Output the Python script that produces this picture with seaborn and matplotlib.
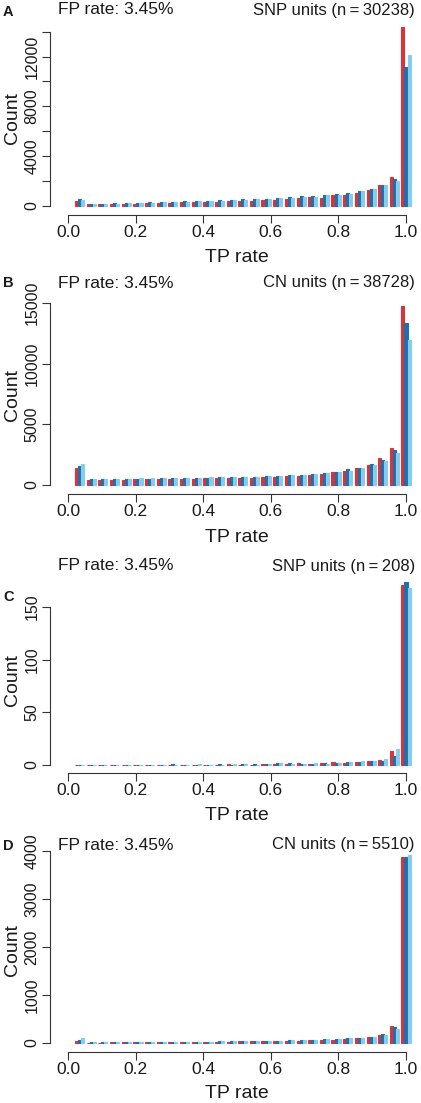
import numpy as np
import pandas as pd
import matplotlib
matplotlib.use("Agg")
import matplotlib.pyplot as plt
import seaborn as sns

# ---------------- data ----------------
tp_bins = [0.034, 0.069, 0.103, 0.138, 0.172, 0.207, 0.241, 0.276, 0.310, 0.345,
           0.379, 0.414, 0.448, 0.483, 0.517, 0.552, 0.586, 0.621, 0.655, 0.690,
           0.724, 0.759, 0.793, 0.828, 0.862, 0.897, 0.931, 0.966, 1.000]
series_names = ["s1", "s2", "s3"]
series_colors = ["#D8353A", "#1E6FAE", "#86CDEB"]

red_A = [420, 130, 140, 160, 170, 190, 220, 240, 270, 290, 310, 330, 350, 380, 410,
         440, 480, 520, 580, 620, 700, 680, 880, 900, 1070, 1280, 1680, 2350, 14350]
dk_A = [560, 170, 190, 210, 230, 260, 290, 310, 350, 380, 400, 430, 460, 490, 530,
        560, 600, 650, 700, 770, 800, 900, 1000, 1020, 1230, 1330, 1700, 2160, 11150]
lt_A = [500, 160, 180, 200, 220, 240, 270, 300, 330, 360, 380, 410, 440, 470, 500,
        540, 580, 620, 680, 740, 760, 860, 880, 940, 1180, 1350, 1650, 2000, 12150]

red_B = [1370, 420, 430, 440, 450, 460, 470, 480, 490, 500, 520, 540, 550, 570, 590,
         610, 640, 680, 720, 780, 850, 920, 1040, 1150, 1370, 1650, 2200, 3020, 14750]
dk_B = [1570, 480, 490, 500, 510, 520, 530, 540, 550, 570, 580, 600, 620, 640, 660,
        690, 720, 760, 800, 860, 930, 1000, 1100, 1290, 1430, 1700, 2060, 2880, 13350]
lt_B = [1700, 500, 510, 520, 530, 540, 550, 560, 570, 590, 600, 620, 640, 660, 680,
        700, 730, 770, 810, 860, 920, 980, 1080, 1180, 1370, 1650, 1980, 2660, 11950]

red_C = [0, 0, 0, 0, 0, 0, 0, 0, 0, 0, 0, 0, 0, 1, 0, 0, 1, 1, 1, 2, 1, 2, 3, 2, 3,
         4, 5, 13, 171]
dk_C = [0, 0, 0, 0, 0, 0, 0, 0, 1, 0, 0, 0, 1, 0, 1, 1, 1, 2, 2, 1, 1, 2, 2, 3, 3,
        4, 4, 9, 174]
lt_C = [0, 0, 0, 0, 0, 0, 0, 0, 0, 0, 1, 0, 0, 1, 1, 0, 1, 2, 1, 1, 2, 1, 2, 3, 4,
        4, 6, 15, 168]

red_D = [40, 10, 10, 12, 14, 15, 17, 18, 20, 22, 24, 26, 28, 30, 33, 36, 40, 44, 48,
         52, 58, 64, 72, 85, 100, 120, 170, 350, 3870]
dk_D = [60, 12, 12, 14, 16, 18, 20, 22, 24, 26, 28, 30, 33, 36, 40, 44, 48, 52, 56,
        62, 68, 75, 85, 95, 110, 130, 180, 340, 3870]
lt_D = [110, 12, 12, 14, 16, 18, 20, 22, 24, 26, 28, 30, 33, 36, 40, 44, 48, 52, 56,
        62, 68, 75, 85, 95, 110, 130, 170, 300, 3920]

panel_letters = ["A", "B", "C", "D"]
left_titles = ["FP rate: 3.45%"] * 4
right_titles = ["SNP units (n\u2009=\u200930238)", "CN units (n\u2009=\u200938728)",
                "SNP units (n\u2009=\u2009208)", "CN units (n\u2009=\u20095510)"]
y_ticks = [[0, 2000, 4000, 6000, 8000, 10000, 12000, 14000],
           [0, 5000, 10000, 15000],
           [0, 50, 100, 150],
           [0, 1000, 2000, 3000, 4000]]
y_ticklabels = [["0", "", "4000", "", "8000", "", "12000", ""],
                ["0", "5000", "10000", "15000"],
                ["0", "50", "100", "150"],
                ["0", "1000", "2000", "3000", "4000"]]
x_ticks = [0.0, 0.2, 0.4, 0.6, 0.8, 1.0]
x_ticklabels = ["0.0", "0.2", "0.4", "0.6", "0.8", "1.0"]
panel_data = [(red_A, dk_A, lt_A), (red_B, dk_B, lt_B), (red_C, dk_C, lt_C), (red_D, dk_D, lt_D)]

# ---------------- layout (pixels) ----------------
W, H = 421, 1103
# (zero_px, top_tick_px, axes_bottom_px, axes_top_px, header_y, letter_y, xlabel_y, ylabel_y)
layout = [
    (206, 31.7, 215, 20, 10, 12, 258, 118),
    (485, 303, 494, 282, 283, 283, 538, 395),
    (765, 607, 773, 570, 566, 597, 815, 680),
    (1043, 851, 1052, 840, 845, 846, 1094, 950),
]
x0_px, x1_px = 68, 406
ax_left_px, ax_right_px = 50, 419.5

sns.set_style("ticks")
plt.rcParams["font.family"] = ["Liberation Sans", "DejaVu Sans"]
axis_col = "#333333"
text_col = "#1a1a1a"

fig = plt.figure(figsize=(W / 100, H / 100), dpi=100)

for i in range(4):
    zero_px, ttop_px, bot_px, top_px, head_y, let_y, xl_y, yl_y = layout[i]
    red, dk, lt = panel_data[i]
    df = pd.DataFrame({
        "tp": tp_bins * 3,
        "count": list(red) + list(dk) + list(lt),
        "series": [series_names[0]] * len(tp_bins) + [series_names[1]] * len(tp_bins)
                  + [series_names[2]] * len(tp_bins),
    })
    ax = fig.add_axes([ax_left_px / W, 1 - bot_px / H,
                       (ax_right_px - ax_left_px) / W, (bot_px - top_px) / H])
    sns.barplot(data=df, x="tp", y="count", hue="series", hue_order=series_names,
                palette=dict(zip(series_names, series_colors)), native_scale=True,
                dodge=True, width=0.8, errorbar=None, saturation=1, legend=False,
                ax=ax)
    for p in ax.patches:
        p.set_edgecolor(p.get_facecolor())
        p.set_linewidth(0.8)

    sx = x1_px - x0_px
    ax.set_xlim((ax_left_px - x0_px) / sx, (ax_right_px - x0_px) / sx)
    top_val = y_ticks[i][-1]
    sy = (zero_px - ttop_px) / top_val
    ax.set_ylim(-(bot_px - zero_px) / sy, (zero_px - top_px) / sy)

    ax.set_xticks(x_ticks)
    ax.set_xticklabels(x_ticklabels, fontsize=12.5, color=text_col)
    ax.set_yticks(y_ticks[i])
    ax.set_yticklabels(y_ticklabels[i], fontsize=11.5, color=text_col,
                       rotation=90, va="center")
    ax.tick_params(axis="both", direction="out", length=6, width=0.8,
                   color=axis_col, pad=1.5)
    for s in ["top", "right"]:
        ax.spines[s].set_visible(False)
    for s in ["left", "bottom"]:
        ax.spines[s].set_color(axis_col)
        ax.spines[s].set_linewidth(0.8)
    ax.spines["left"].set_bounds(0, top_val)
    ax.spines["bottom"].set_bounds(0, 1)

    ax.set_xlabel("")
    ax.set_ylabel("")
    fig.text((x0_px + x1_px) / 2 / W, 1 - xl_y / H, "TP rate", fontsize=14,
             ha="center", va="center", color=text_col)
    fig.text(12 / W, 1 - yl_y / H, "Count", fontsize=14, rotation=90,
             ha="center", va="center", color=text_col)
    fig.text(58 / W, 1 - head_y / H, left_titles[i], fontsize=12.5,
             ha="left", va="center", color=text_col)
    fig.text(415 / W, 1 - head_y / H, right_titles[i], fontsize=12,
             ha="right", va="center", color=text_col)
    fig.text(3 / W, 1 - let_y / H, panel_letters[i], fontsize=10.5, fontweight="bold",
             ha="left", va="center", color=text_col)

fig.savefig("out.png", dpi=100)
